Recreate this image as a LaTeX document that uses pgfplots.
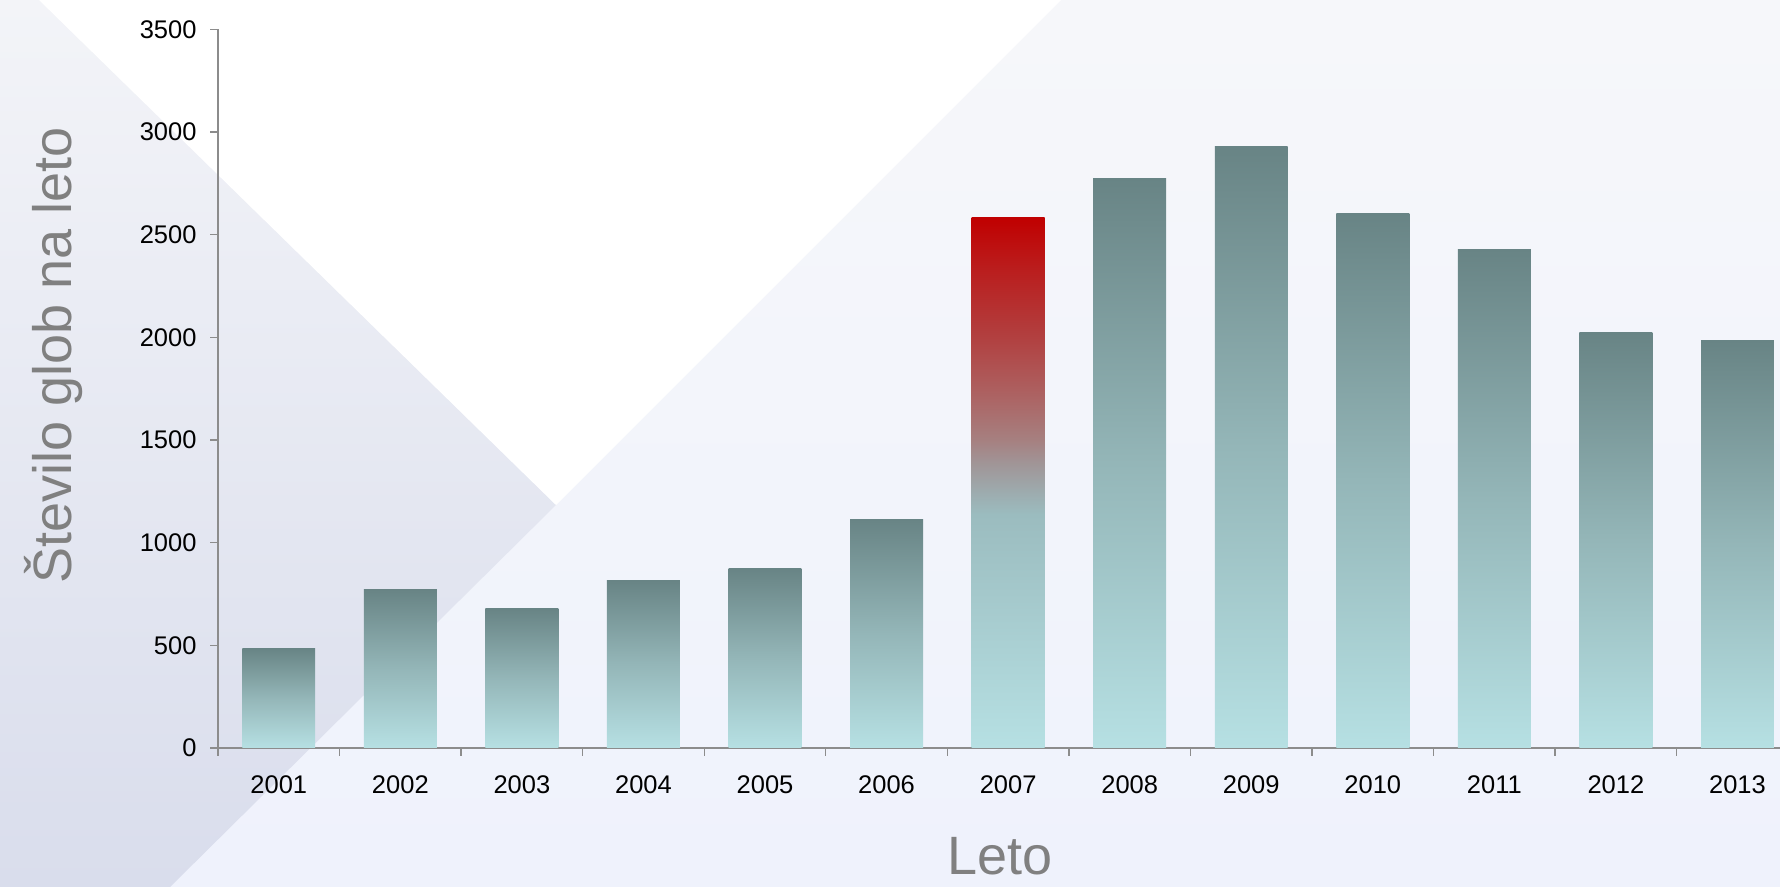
\documentclass[border=0pt]{standalone}
\usepackage{fontspec}
\setmainfont{Liberation Sans}
\usepackage{pgfplots}
\pgfplotsset{compat=1.18}
\definecolor{tt}{RGB}{104,132,133}
\definecolor{tm}{RGB}{148,182,184}
\definecolor{tb}{RGB}{182,224,227}
\definecolor{r0}{RGB}{192,0,0}
\definecolor{q1}{RGB}{155,188,191}
\definecolor{q2}{RGB}{157,172,175}
\definecolor{q3}{RGB}{160,150,152}
\definecolor{q4}{RGB}{166,128,128}
\definecolor{q5}{RGB}{172,100,100}
\definecolor{q6}{RGB}{178,62,62}
\definecolor{q7}{RGB}{186,30,30}
\definecolor{axgrey}{RGB}{140,140,140}
\definecolor{labgrey}{RGB}{128,128,128}
\definecolor{bgt}{RGB}{246,247,250}
\definecolor{bgb}{RGB}{239,242,252}
\definecolor{lft}{RGB}{243,244,248}
\definecolor{lfb}{RGB}{217,221,236}
\pgfdeclareverticalshading{tealbar}{100bp}{color(0bp)=(tb); color(25bp)=(tb); color(50bp)=(tm); color(75bp)=(tt); color(100bp)=(tt)}
\pgfdeclareverticalshading{redbar}{100bp}{color(0bp)=(tb); color(25bp)=(tb); color(47bp)=(q1); color(49bp)=(q2); color(51.7bp)=(q3); color(54bp)=(q4); color(58bp)=(q5); color(64bp)=(q6); color(70bp)=(q7); color(75bp)=(r0); color(100bp)=(r0)}
\pgfplotsset{tbar/.style={ybar, bar width=0.6, bar shift=0pt, draw=none, shading=tealbar}}
\begin{document}
\begin{tikzpicture}
% background
\shade[top color=bgt, bottom color=bgb] (0,0) rectangle (890pt,443.5pt);
\shade[top color=lft, bottom color=lfb] (0,0) -- (0,443.5pt) -- (19.5pt,443.5pt) -- (278pt,191pt) -- (85pt,0) -- cycle;
\fill[white] (19.5pt,443.5pt) -- (278pt,191pt) -- (530.5pt,443.5pt) -- cycle;
\begin{axis}[
  at={(109pt,69.5pt)}, anchor=south west,
  scale only axis, width=781pt, height=359.35pt,
  xmin=0.5, xmax=13.35, ymin=0, ymax=3500,
  axis x line*=bottom, axis y line*=left,
  axis line style={draw=axgrey, line width=0.7pt},
  ytick={0,500,...,3500},
  xtick={1,...,13},
  xticklabels={2001,2002,2003,2004,2005,2006,2007,2008,2009,2010,2011,2012,2013},
  minor xtick={0.5,1.5,...,12.5},
  major x tick style={draw=none},
  minor x tick style={draw=axgrey, line width=0.7pt},
  y tick style={draw=axgrey, line width=0.7pt},
  tick align=outside,
  major tick length=4pt, minor tick length=4pt,
  /pgf/number format/assume math mode=true,
  /pgf/number format/1000 sep={},
  tick label style={font=\fontsize{12.75}{15}\selectfont, text=black},
  yticklabel style={xshift=-3.2pt},
  xticklabel style={yshift=-6.4pt},
  xlabel={Leto},
  ylabel={Število glob na leto},
  every axis x label/.style={at={(axis description cs:0.5006,-0.176)}, anchor=base, font=\fontsize{27}{32}\selectfont, text=labgrey},
  every axis y label/.style={at={(axis description cs:-0.0935,0.5468)}, rotate=90, anchor=base, font=\fontsize{27}{32}\selectfont, text=labgrey},
  clip=false,
]
\addplot[tbar] coordinates {(1,485)};
\addplot[tbar] coordinates {(2,770)};
\addplot[tbar] coordinates {(3,680)};
\addplot[tbar] coordinates {(4,815)};
\addplot[tbar] coordinates {(5,875)};
\addplot[tbar] coordinates {(6,1115)};
\addplot[ybar, bar width=0.6, bar shift=0pt, draw=none, shading=redbar] coordinates {(7,2585)};
\addplot[tbar] coordinates {(8,2775)};
\addplot[tbar] coordinates {(9,2930)};
\addplot[tbar] coordinates {(10,2605)};
\addplot[tbar] coordinates {(11,2430)};
\addplot[tbar] coordinates {(12,2025)};
\addplot[tbar] coordinates {(13,1985)};
\end{axis}
\pgfresetboundingbox
\path[use as bounding box] (0,0) rectangle (890pt,443.5pt);
\end{tikzpicture}
\end{document}
